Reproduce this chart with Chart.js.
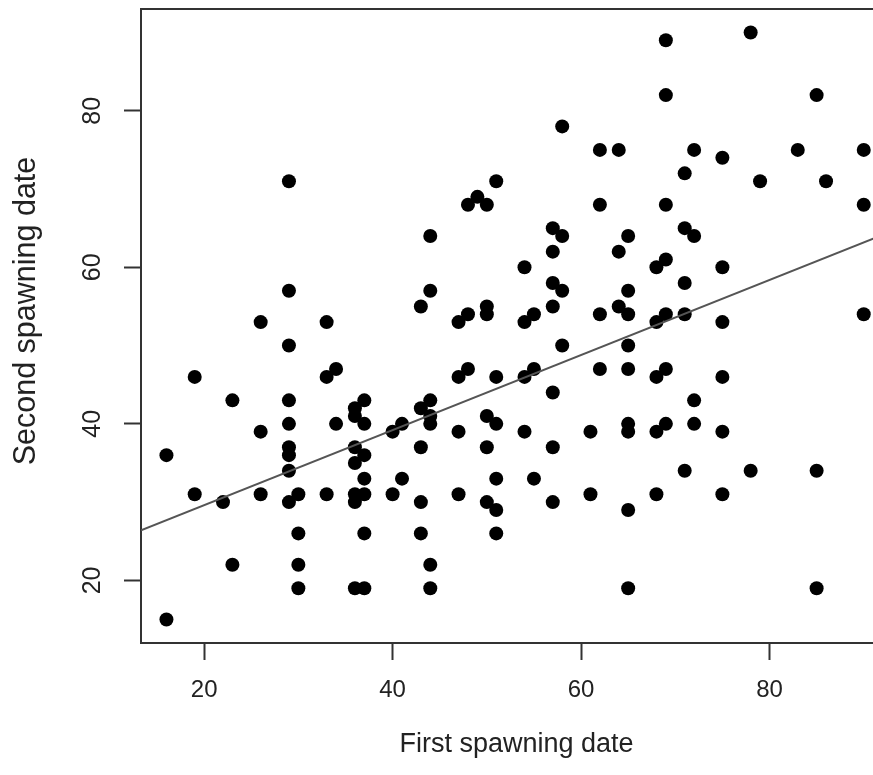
<!DOCTYPE html>
<html>
<head>
<meta charset="utf-8">
<script src="https://cdn.jsdelivr.net/npm/chart.js@4.4.1/dist/chart.umd.min.js"></script>
<style>
  html, body { margin: 0; padding: 0; background: #fff; overflow: hidden; width: 873px; height: 775px; }
  #wrap { width: 873px; height: 775px; overflow: hidden; position: relative; }
  canvas { display: block; position: absolute; left: 0; top: 0; }
</style>
</head>
<body>
<div id="wrap"><canvas id="c" width="900" height="775"></canvas></div>
<script>
// ---- data ----
const firstSpawn = [
  16,16,19,19,22,23,23,26,26,26,
  29,29,29,29,29,29,29,29,29,
  30,30,30,30,
  33,33,33,
  34,34,
  36,36,36,36,36,36,36,
  37,37,37,37,37,37,37,
  40,40,41,41,
  43,43,43,43,43,
  44,44,44,44,44,44,44,
  47,47,47,47,
  48,48,48,49,
  50,50,50,50,50,50,
  51,51,51,51,51,51,
  54,54,54,54,
  55,55,55,
  57,57,57,57,57,57,57,
  58,58,58,58,
  61,61,
  62,62,62,62,
  64,64,64,
  65,65,65,65,65,65,65,65,65,
  68,68,68,68,68,
  69,69,69,69,69,69,69,
  71,71,71,71,71,
  72,72,72,72,
  75,75,75,75,75,75,
  78,78,79,83,
  85,85,85,86,
  90,90,90
];
const secondSpawn = [
  36,15,46,31,30,43,22,53,39,31,
  71,57,50,43,40,37,36,34,30,
  31,26,22,19,
  53,46,31,
  47,40,
  42,41,37,35,31,30,19,
  43,40,36,33,31,26,19,
  39,31,40,33,
  55,42,37,30,26,
  64,57,43,41,40,22,19,
  53,46,39,31,
  68,54,47,69,
  68,55,54,41,37,30,
  71,46,40,33,29,26,
  60,53,46,39,
  54,47,33,
  65,62,58,55,44,37,30,
  78,64,57,50,
  39,31,
  75,68,54,47,
  75,62,55,
  64,57,54,50,47,40,39,29,19,
  60,53,46,39,31,
  89,82,68,61,54,47,40,
  72,65,58,54,34,
  75,64,43,40,
  74,60,53,46,39,31,
  90,34,71,75,
  82,34,19,71,
  75,68,54
];
// fitted line end points (at the axis limits)
const fitX = [13.3, 93];
const fitY = [26.4, 64.6];
// tick labels
const xTicks = [20, 40, 60, 80];
const yTicks = [20, 40, 60, 80];
const xLabel = 'First spawning date';
const yLabel = 'Second spawning date';
// axis limits
const xMin = 13.3, xMax = 93;
const yMin = 12, yMax = 93;

const points = firstSpawn.map((x, i) => ({ x: x, y: secondSpawn[i] }));
const fitLine = fitX.map((x, i) => ({ x: x, y: fitY[i] }));

const TEXT = '#222';
const FRAME = '#333';
const FONT = 'Liberation Sans, Arial, sans-serif';

// plot box: left, top and bottom sides (right side lies beyond the cropped picture)
const framePlugin = {
  id: 'frame',
  beforeDatasetsDraw(chart) {
    const a = chart.chartArea, ctx = chart.ctx;
    ctx.save();
    ctx.strokeStyle = FRAME;
    ctx.lineWidth = 2;
    ctx.beginPath();
    ctx.moveTo(a.right, a.top);
    ctx.lineTo(a.left, a.top);
    ctx.lineTo(a.left, a.bottom);
    ctx.lineTo(a.right, a.bottom);
    ctx.stroke();
    ctx.restore();
  }
};

// rotated y tick labels and y title (R style)
const yLabelPlugin = {
  id: 'yTickLabels',
  afterDraw(chart) {
    const s = chart.scales.y, ctx = chart.ctx, a = chart.chartArea;
    ctx.save();
    ctx.fillStyle = TEXT;
    ctx.font = '25px ' + FONT;
    ctx.textAlign = 'center';
    ctx.textBaseline = 'middle';
    s.ticks.forEach(t => {
      const py = s.getPixelForValue(t.value);
      ctx.save();
      ctx.translate(s.right - 48, py);
      ctx.rotate(-Math.PI / 2);
      ctx.fillText(String(t.value), 0, 0);
      ctx.restore();
    });
    ctx.font = '30.5px ' + FONT;
    ctx.translate(s.left + 27, (a.top + a.bottom) / 2 - 15);
    ctx.rotate(-Math.PI / 2);
    ctx.fillText(yLabel, 0, 0);
    ctx.restore();
  }
};

new Chart(document.getElementById('c'), {
  type: 'scatter',
  data: {
    datasets: [
      {
        type: 'line',
        data: fitLine,
        borderColor: '#555',
        borderWidth: 2,
        pointRadius: 0,
        fill: false,
        tension: 0
      },
      {
        data: points,
        backgroundColor: '#000',
        borderWidth: 0,
        pointRadius: 7,
        pointHoverRadius: 7
      }
    ]
  },
  options: {
    responsive: false,
    animation: false,
    events: [],
    layout: { padding: { left: 0, right: 8, top: 9, bottom: 0 } },
    plugins: { legend: { display: false }, tooltip: { enabled: false } },
    scales: {
      x: {
        type: 'linear',
        min: xMin, max: xMax,
        afterBuildTicks: s => { s.ticks = xTicks.map(v => ({ value: v })); },
        afterFit: s => { s.height = 132; },
        border: { display: false },
        grid: { display: true, drawOnChartArea: false, drawTicks: true, tickLength: 17, tickWidth: 2, tickColor: FRAME },
        ticks: { color: TEXT, font: { family: FONT, size: 24 }, padding: 16, maxRotation: 0, autoSkip: false },
        title: { display: true, text: xLabel, color: TEXT, font: { family: FONT, size: 27 }, padding: { top: 0, bottom: 14 } }
      },
      y: {
        type: 'linear',
        min: yMin, max: yMax,
        afterBuildTicks: s => { s.ticks = yTicks.map(v => ({ value: v })); },
        afterFit: s => { s.width = 141; },
        border: { display: false },
        grid: { display: true, drawOnChartArea: false, drawTicks: true, tickLength: 17, tickWidth: 2, tickColor: FRAME },
        ticks: { display: false },
        title: { display: false, text: yLabel }
      }
    }
  },
  plugins: [framePlugin, yLabelPlugin]
});
</script>
</body>
</html>
